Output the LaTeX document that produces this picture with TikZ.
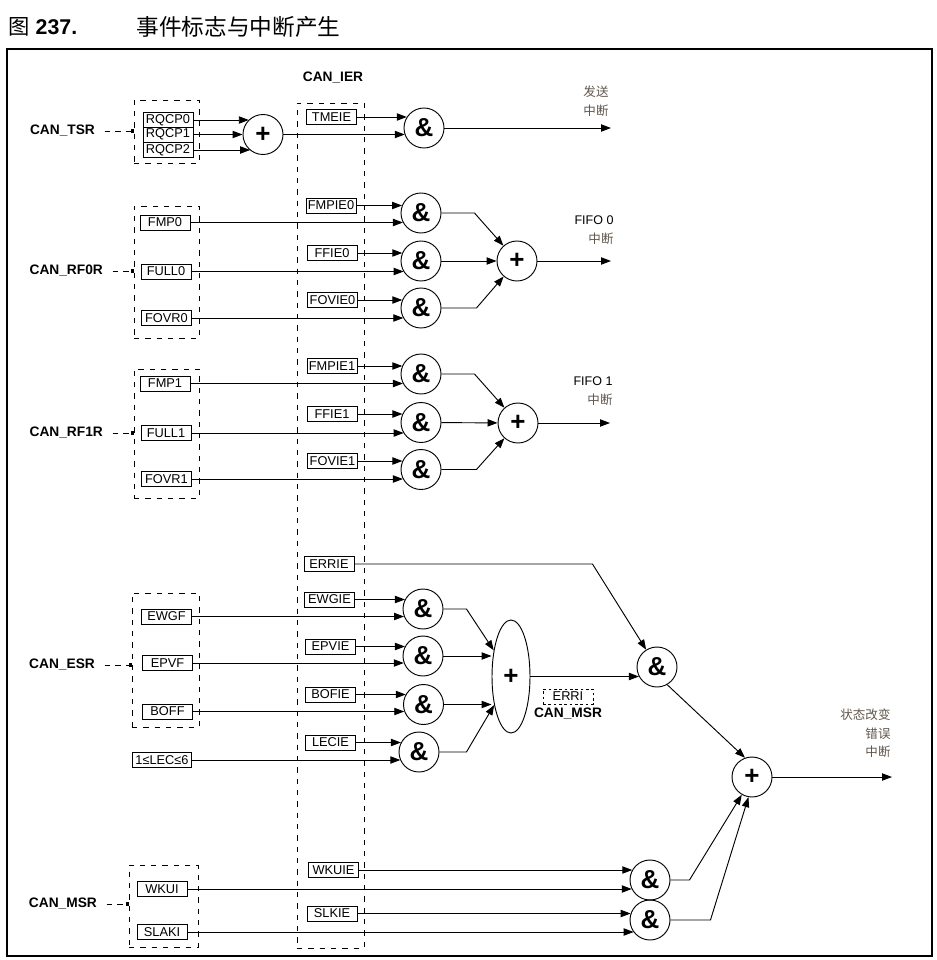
\documentclass[tikz,border=0pt]{standalone}
\usepackage{fontspec}
\setmainfont{Liberation Sans}
\newfontfamily\cjk{Noto Sans CJK SC}
\usetikzlibrary{shapes.geometric, arrows.meta, positioning, fit}
\definecolor{notecolor}{RGB}{96, 86, 76}

\begin{document}
\begin{tikzpicture}[
    x=0.75pt, y=-0.75pt,
    line width=0.7pt,
    >={Triangle[length=7.5pt, width=5.5pt]},
    reg/.style={rectangle, draw, minimum width=37.5pt, minimum height=11.25pt, inner sep=1pt, font=\fontsize{9.6}{11}\selectfont},
    flag/.style={reg, dash pattern=on 2pt off 2pt, line width=0.5pt},
    gate/.style={circle, draw, minimum size=30pt, inner sep=0pt, font=\fontsize{19.5}{19.5}\selectfont\bfseries},
    orgate/.style={ellipse, draw, minimum width=28.5pt, minimum height=84.75pt, inner sep=0pt, font=\fontsize{19.5}{19.5}\selectfont\bfseries},
    grp/.style={draw, dash pattern=on 4pt off 4.5pt, inner sep=0pt},
    regname/.style={font=\fontsize{10.3}{12}\selectfont\bfseries, inner sep=2pt},
    link/.style={dash pattern=on 4pt off 4pt, shorten <=5pt, -{Square[length=2.2pt, width=2.6pt]}},
    note/.style={font=\cjk\fontsize{9.4}{14.25}\selectfont, text=notecolor, align=right, inner sep=0pt},
    arrow/.style={->}
]

% Frame and title
\useasboundingbox (0,0) rectangle (937,960);
\node[anchor=west, inner sep=0pt, font=\fontsize{16}{18}\selectfont] (fig_no) at (8, 27) {{\cjk 图} \textbf{237.}};
\node[anchor=west, inner sep=0pt, font=\cjk\fontsize{17}{18}\selectfont] (fig_title) at (136, 27) {事件标志与中断产生};
\draw[line width=1pt] (7, 49) rectangle (932, 956);

% Enable register column
\node[regname] (ier_lab) at (333, 78) {CAN\_IER};
\node[grp, fit={(297, 103) (364, 948)}] (ier_grp) {};

% Transmit interrupt
\node[regname, anchor=east] (can_tsr) at (98, 131) {CAN\_TSR};
\node[grp, fit={(134, 100) (199, 163)}] (tsr_grp) {};
\node[reg] (rqcp0) at (168, 120) {RQCP0};
\node[reg] (rqcp1) at (168, 134.5) {RQCP1};
\node[reg] (rqcp2) at (168, 150) {RQCP2};
\node[gate] (plus_tsr) at (263, 134.5) {+};
\node[reg] (tmeie) at (331.5, 117) {TMEIE};
\node[gate] (and_tx) at (424, 128) {\&};
\coordinate (tx_out) at (611, 128);
\node[note, anchor=east] (tx_note) at (609, 101.5) {发送\\中断};

\draw[link] (can_tsr.east) -- (can_tsr.east -| tsr_grp.west);
\draw[arrow] (rqcp0.east) -- (rqcp0.east -| plus_tsr.134);
\draw[arrow] (rqcp1.east) -- (plus_tsr.west);
\draw[arrow] (rqcp2.east) -- (rqcp2.east -| plus_tsr.231);
\draw[arrow] (tmeie.east) -- (tmeie.east -| and_tx.147);
\draw[arrow] (plus_tsr.east) -- (plus_tsr.east -| and_tx.200);
\draw[arrow] (and_tx) -- (tx_out);

% FIFO 0 interrupt
\node[regname, anchor=east] (can_rf0r) at (106, 271) {CAN\_RF0R};
\node[grp, fit={(134, 206) (199, 338)}] (rf0_grp) {};
\node[reg] (fmp0) at (165, 222.5) {FMP0};
\node[reg] (full0) at (166, 271.5) {FULL0};
\node[reg] (fovr0) at (166.5, 318) {FOVR0};
\node[reg] (fmpie0) at (331, 205.5) {FMPIE0};
\node[reg] (ffie0) at (332, 253) {FFIE0};
\node[reg] (fovie0) at (332.5, 300) {FOVIE0};
\node[gate] (and_f0a) at (421, 213) {\&};
\node[gate] (and_f0b) at (421, 261) {\&};
\node[gate] (and_f0c) at (421, 308) {\&};
\node[gate] (plus_f0) at (517, 261) {+};
\coordinate (f0_out) at (611, 261);
\node[note, anchor=east] (f0_note) at (614, 230) {{\rmfamily\color{black}FIFO 0}\\中断};

\draw[link] (can_rf0r.east) -- (can_rf0r.east -| rf0_grp.west);
\draw[arrow] (fmpie0.east) -- (fmpie0.east -| and_f0a.158);
\draw[arrow] (fmp0.east) -- (fmp0.east -| and_f0a.208);
\draw[arrow] (ffie0.east) -- (ffie0.east -| and_f0b.156);
\draw[arrow] (full0.east) -- (full0.east -| and_f0b.212);
\draw[arrow] (fovie0.east) -- (fovie0.east -| and_f0c.156);
\draw[arrow] (fovr0.east) -- (fovr0.east -| and_f0c.210);
\draw[arrow] (and_f0a.east) -- ++(33, 0) -- (plus_f0);
\draw[arrow] (and_f0b) -- (plus_f0);
\draw[arrow] (and_f0c.east) -- ++(35, 0) -- (plus_f0);
\draw[arrow] (plus_f0) -- (f0_out);

% FIFO 1 interrupt
\node[regname, anchor=east] (can_rf1r) at (106, 433) {CAN\_RF1R};
\node[grp, fit={(134, 369) (199, 498)}] (rf1_grp) {};
\node[reg] (fmp1) at (165, 383.5) {FMP1};
\node[reg] (full1) at (166, 433) {FULL1};
\node[reg] (fovr1) at (166.5, 479) {FOVR1};
\node[reg] (fmpie1) at (332, 366) {FMPIE1};
\node[reg] (ffie1) at (332, 414) {FFIE1};
\node[reg] (fovie1) at (332.5, 461) {FOVIE1};
\node[gate] (and_f1a) at (421, 374) {\&};
\node[gate] (and_f1b) at (421, 422.5) {\&};
\node[gate] (and_f1c) at (421, 469.5) {\&};
\node[gate] (plus_f1) at (518, 423) {+};
\coordinate (f1_out) at (610, 423);
\node[note, anchor=east] (f1_note) at (613, 391) {{\rmfamily\color{black}FIFO 1}\\中断};

\draw[link] (can_rf1r.east) -- (can_rf1r.east -| rf1_grp.west);
\draw[arrow] (fmpie1.east) -- (fmpie1.east -| and_f1a.156);
\draw[arrow] (fmp1.east) -- (fmp1.east -| and_f1a.208);
\draw[arrow] (ffie1.east) -- (ffie1.east -| and_f1b.155);
\draw[arrow] (full1.east) -- (full1.east -| and_f1b.212);
\draw[arrow] (fovie1.east) -- (fovie1.east -| and_f1c.155);
\draw[arrow] (fovr1.east) -- (fovr1.east -| and_f1c.208);
\draw[arrow] (and_f1a.east) -- ++(33, 0) -- (plus_f1);
\draw[arrow] (and_f1b) -- (plus_f1);
\draw[arrow] (and_f1c.east) -- ++(35, 0) -- (plus_f1);
\draw[arrow] (plus_f1) -- (f1_out);

% Error interrupt
\node[regname, anchor=east] (can_esr) at (98, 665) {CAN\_ESR};
\node[grp, fit={(132, 593) (199, 727)}] (esr_grp) {};
\node[reg] (ewgf) at (166.5, 616.5) {EWGF};
\node[reg] (epvf) at (167.5, 663) {EPVF};
\node[reg] (boff) at (167.5, 711.5) {BOFF};
\node[reg, minimum width=44pt] (lec) at (162, 760) {1≤LEC≤6};
\node[reg] (errie) at (329, 564) {ERRIE};
\node[reg] (ewgie) at (329.5, 599.5) {EWGIE};
\node[reg] (epvie) at (330.5, 646.5) {EPVIE};
\node[reg] (bofie) at (330.5, 694.5) {BOFIE};
\node[reg] (lecie) at (330.5, 742.5) {LECIE};
\node[gate] (and_ewg) at (423, 609) {\&};
\node[gate] (and_epv) at (423, 656) {\&};
\node[gate] (and_bof) at (423.5, 704.5) {\&};
\node[gate] (and_lec) at (419, 752) {\&};
\node[orgate] (or_esr) at (511, 676.5) {+};
\node[flag] (erri) at (568, 696.5) {ERRI};
\node[regname, below=0pt of erri] (erri_lab) {CAN\_MSR};
\node[gate] (and_err) at (657, 667) {\&};

\draw[link] (can_esr.east) -- (can_esr.east -| esr_grp.west);
\draw[arrow] (ewgie.east) -- (ewgie.east -| and_ewg.152);
\draw[arrow] (ewgf.east) -- (ewgf.east -| and_ewg.202);
\draw[arrow] (epvie.east) -- (epvie.east -| and_epv.152);
\draw[arrow] (epvf.east) -- (epvf.east -| and_epv.200);
\draw[arrow] (bofie.east) -- (bofie.east -| and_bof.150);
\draw[arrow] (boff.east) -- (boff.east -| and_bof.200);
\draw[arrow] (lecie.east) -- (lecie.east -| and_lec.152);
\draw[arrow] (lec.east) -- (lec.east -| and_lec.204);
\draw[arrow] (and_ewg.east) -- ++(23, 0) -- (or_esr);
\draw[arrow] (and_epv.east) -- (and_epv.east -| or_esr.west);
\draw[arrow] (and_bof.east) -- (and_bof.east -| or_esr.west);
\draw[arrow] (and_lec.east) -- ++(27, 0) -- (or_esr);
\draw[arrow] (or_esr.east) -- (or_esr.east -| and_err.208);
\draw[arrow] (errie.east) -- ++(238, 0) -- (and_err);

% Wakeup / sleep and combined output
\node[regname, anchor=east] (can_msr) at (100, 904) {CAN\_MSR};
\node[grp, fit={(129, 865) (198, 947)}] (msr_grp) {};
\node[reg] (wkui) at (162, 889) {WKUI};
\node[reg] (slaki) at (162, 932) {SLAKI};
\node[reg] (wkuie) at (333.5, 870) {WKUIE};
\node[reg] (slkie) at (332, 913.5) {SLKIE};
\node[gate] (and_wku) at (650, 880) {\&};
\node[gate] (and_slk) at (650, 920) {\&};
\node[gate] (plus_all) at (752, 777) {+};
\coordinate (err_out) at (892, 777);
\node[note, anchor=east, font=\cjk\fontsize{9.4}{13.9}\selectfont] (err_note) at (891, 733.5) {状态改变\\错误\\中断};

\draw[link] (can_msr.east) -- (can_msr.east -| msr_grp.west);
\draw[arrow] (wkuie.east) -- (wkuie.east -| and_wku.150);
\draw[arrow] (wkui.east) -- (wkui.east -| and_wku.207);
\draw[arrow] (slkie.east) -- (slkie.east -| and_slk.161);
\draw[arrow] (slaki.east) -- (slaki.east -| and_slk.217);
\draw[arrow] (and_err.300) -- (plus_all.110);
\draw[arrow] (and_wku.east) -- ++(19, 0) -- (plus_all.240);
\draw[arrow] (and_slk.east) -- ++(40, 0) -- (plus_all.260);
\draw[arrow] (plus_all) -- (err_out);

\end{tikzpicture}
\end{document}
